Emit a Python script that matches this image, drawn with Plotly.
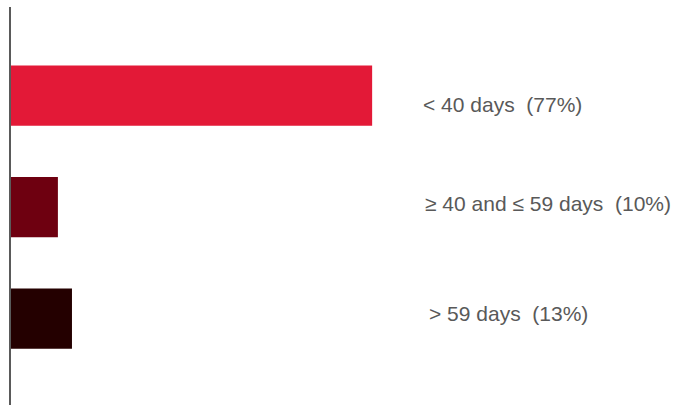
import plotly.graph_objects as go

# Share of cases by duration bucket
categories = ["< 40 days", "≥ 40 and ≤ 59 days", "> 59 days"]
shares = [77, 10, 13]
bar_colors = ["#E31937", "#6E0010", "#240000"]

positions = list(range(len(categories)))

fig = go.Figure(
    go.Bar(
        x=shares,
        y=positions,
        orientation="h",
        width=0.54,
        marker=dict(color=bar_colors, line=dict(width=0)),
        hoverinfo="skip",
    )
)

# Category labels with their share, placed to the right of the bars
label_offsets = [(0, -8.5), (2, 4), (6, 5.5)]
for pos, cat, val, (dx, dy) in zip(positions, categories, shares, label_offsets):
    fig.add_annotation(
        x=0.616,
        xref="paper",
        xshift=dx,
        y=pos,
        yref="y",
        yshift=dy,
        text=f"{cat}  ({val}%)",
        showarrow=False,
        xanchor="left",
        yanchor="middle",
        font=dict(family="Liberation Sans, Arial, sans-serif", size=21, color="#595959"),
    )

fig.update_layout(
    width=677,
    height=405,
    margin=dict(l=11, r=0, t=7, b=0),
    paper_bgcolor="white",
    plot_bgcolor="white",
    showlegend=False,
    xaxis=dict(range=[0, 142], visible=False, fixedrange=True),
    yaxis=dict(
        range=[2.775, -0.795],
        showline=True,
        linecolor="#5a5a5a",
        linewidth=2,
        showticklabels=False,
        ticks="",
        showgrid=False,
        zeroline=False,
        fixedrange=True,
    ),
)

fig.write_html("out.html")
